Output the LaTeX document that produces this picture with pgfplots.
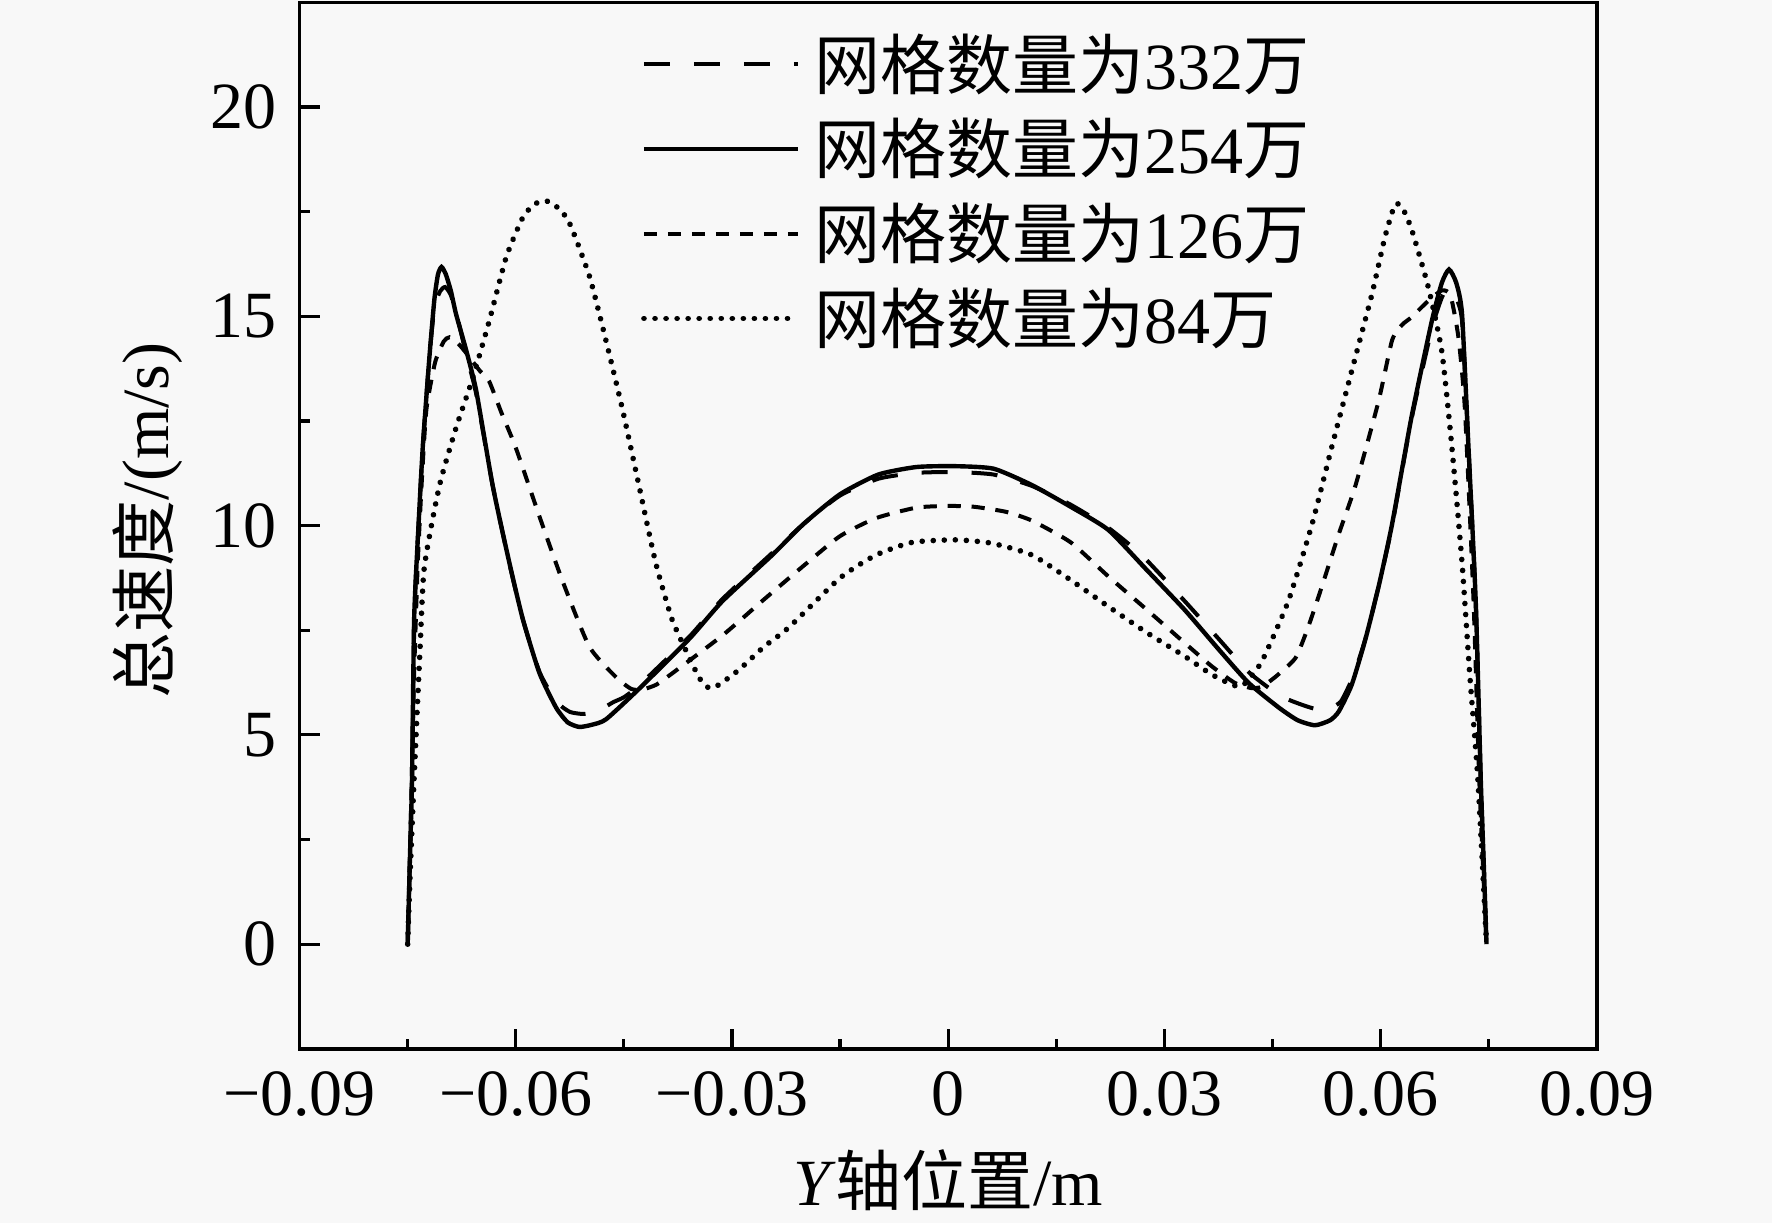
\documentclass[border=0pt]{standalone}
\usepackage{fontspec}
\setmainfont{Liberation Serif}
\newfontfamily\cjk{Noto Sans CJK SC}
\usepackage{pgfplots}
\pgfplotsset{compat=1.18}
\definecolor{bgc}{RGB}{248,248,248}
\begin{document}
\fontsize{16.5}{19.8}\selectfont
\begin{tikzpicture}
\fill[bgc] (-74.9pt,-43.6pt) rectangle (368.1pt,262.2pt);
\begin{axis}[
  at={(0pt,0pt)}, anchor=south west,
  scale only axis, width=324.3pt, height=261.6pt,
  xmin=-0.09, xmax=0.09, ymin=-2.5, ymax=22.5,
  scaled x ticks=false, scaled y ticks=false,
  xtick={-0.09,-0.06,-0.03,0,0.03,0.06,0.09},
  xticklabels={−0.09,−0.06,−0.03,0,0.03,0.06,0.09},
  ytick={0,5,10,15,20},
  yticklabels={0,5,10,15,20},
  minor xtick={-0.075,-0.045,-0.015,0.015,0.045,0.075},
  minor ytick={2.5,7.5,12.5,17.5},
  tick align=inside, xtick pos=bottom, ytick pos=left,
  major tick length=5pt, minor tick length=2.5pt,
  every major tick/.append style={black, line width=0.8pt},
  every minor tick/.append style={black, line width=0.8pt},
  axis line style={line width=0.9pt},
  tick label style={font=\fontsize{16.5}{19.8}\selectfont},
  label style={font=\fontsize{16.5}{19.8}\selectfont},
  xlabel={\textit{Y}{\cjk 轴位置}/m},
  ylabel={{\cjk 总速度}/(m/s)},
  xlabel style={at={(axis description cs:0.5,-0.126)}, anchor=center},
  ylabel style={at={(axis description cs:-0.117,0.505)}, anchor=center},
  legend style={at={(axis description cs:0.2627,0.9715)}, anchor=north west,
    draw=none, fill=none, inner sep=0pt, row sep=5.7pt,
    nodes={inner sep=0pt, text height=14pt, text depth=1.5pt},
    font=\fontsize{16.5}{19.8}\selectfont,
    /tikz/every odd column/.append style={column sep=3.4pt}},
  legend cell align=left,
  legend image code/.code={\draw[#1, smooth=false] (0pt,0pt) -- (38.5pt,0pt);},
  every axis plot/.append style={smooth, tension=0.35},
]
% 332
\addplot[black, line width=1pt, dash pattern=on 6.5pt off 6pt] coordinates {
(-0.0750,0) (-0.0744,3.94) (-0.0741,7.8) (-0.0735,10.0) (-0.0729,11.9)
(-0.0720,14.0) (-0.0713,15.2) (-0.0705,15.6) (-0.0698,15.7) (-0.0690,15.5)
(-0.0680,14.9) (-0.0669,14.1) (-0.0655,13.15) (-0.0632,10.95) (-0.0609,9.1)
(-0.0590,7.75) (-0.0567,6.5) (-0.0544,5.8) (-0.0525,5.55) (-0.0505,5.5)
(-0.0485,5.58) (-0.0465,5.78) (-0.0450,5.9) (-0.0429,6.18) (-0.0359,7.35)
(-0.0313,8.25) (-0.0244,9.35) (-0.0200,10.05) (-0.0150,10.72) (-0.0097,11.12)
(-0.0044,11.26) (0.0010,11.28) (0.0063,11.22) (0.0116,10.95) (0.0170,10.5)
(0.0222,9.95) (0.0270,9.27) (0.0328,8.2) (0.0375,7.3) (0.0417,6.5)
(0.0459,5.95) (0.0486,5.75) (0.0510,5.62) (0.0530,5.65) (0.0545,5.8)
(0.0562,6.4) (0.0579,7.3) (0.0598,8.6) (0.0616,10.0) (0.0643,12.55)
(0.0671,14.7) (0.0685,15.45) (0.0693,15.65) (0.0703,15.5) (0.0713,14.9)
(0.0722,11.86) (0.0732,8.2) (0.0739,3.94) (0.0747,0)
};
\addlegendentry{{\cjk 网格数量为}332{\cjk 万}}
% 254
\addplot[black, line width=1.1pt] coordinates {
(-0.0750,0) (-0.0747,2.0) (-0.0744,3.94) (-0.0741,7.8) (-0.0735,10.0)
(-0.0729,11.9) (-0.0720,14.0) (-0.0713,15.4) (-0.0708,16.0) (-0.0703,16.18)
(-0.0697,16.0) (-0.0690,15.6) (-0.0683,15.06) (-0.0669,14.2) (-0.0655,13.23)
(-0.0632,10.95) (-0.0609,9.12) (-0.0590,7.75) (-0.0567,6.47) (-0.0544,5.65)
(-0.0528,5.30) (-0.0512,5.19) (-0.0495,5.24) (-0.0475,5.37) (-0.0429,6.10)
(-0.0359,7.30) (-0.0313,8.20) (-0.0244,9.30) (-0.0200,10.05) (-0.0150,10.75)
(-0.0097,11.22) (-0.0044,11.40) (0.0010,11.42) (0.0063,11.36) (0.0116,10.97)
(0.0170,10.45) (0.0222,9.90) (0.0275,8.95) (0.0328,7.99) (0.0375,7.05)
(0.0417,6.24) (0.0459,5.65) (0.0485,5.35) (0.0509,5.23) (0.0530,5.35)
(0.0542,5.56) (0.0560,6.2) (0.0579,7.29) (0.0598,8.6) (0.0616,10.04)
(0.0643,12.60) (0.0671,14.88) (0.0685,15.8) (0.0695,16.12) (0.0705,15.8)
(0.0713,15.06) (0.0722,11.86) (0.0732,8.2) (0.0739,3.94) (0.0743,2.0)
(0.0747,0)
};
\addlegendentry{{\cjk 网格数量为}254{\cjk 万}}
% 126
\addplot[black, line width=1pt, dash pattern=on 3.3pt off 2.7pt] coordinates {
(-0.0750,0) (-0.0745,3.5) (-0.0741,6.5) (-0.0736,9.12) (-0.0730,11.2)
(-0.0724,12.78) (-0.0712,13.9) (-0.0700,14.4) (-0.0692,14.5) (-0.0680,14.35)
(-0.0670,14.15) (-0.0650,13.7) (-0.0637,13.45) (-0.0620,12.7) (-0.0600,11.86)
(-0.0567,10.21) (-0.0535,8.67) (-0.0498,7.11) (-0.0461,6.38) (-0.0440,6.1)
(-0.0425,6.08) (-0.0405,6.2) (-0.0383,6.47) (-0.0313,7.38) (-0.0256,8.23)
(-0.0200,9.05) (-0.0150,9.75) (-0.0100,10.18) (-0.0044,10.43) (0.0000,10.47)
(0.0036,10.45) (0.0080,10.33) (0.0116,10.12) (0.0170,9.6) (0.0222,8.79)
(0.0275,8.0) (0.0328,7.20) (0.0365,6.65) (0.0397,6.25) (0.0420,6.12)
(0.0435,6.15) (0.0455,6.4) (0.0482,6.84) (0.0500,7.6) (0.0519,8.57)
(0.0542,9.8) (0.0565,10.95) (0.0597,12.96) (0.0616,14.43) (0.0630,14.8)
(0.0643,14.98) (0.0665,15.35) (0.0685,15.62) (0.0697,15.5) (0.0708,14.5)
(0.0717,12.78) (0.0729,8.2) (0.0737,3.9) (0.0747,0)
};
\addlegendentry{{\cjk 网格数量为}126{\cjk 万}}
% 84
\addplot[black, line width=1.4pt, line cap=round, dash pattern=on 0.01pt off 2.75pt] coordinates {
(-0.0750,0) (-0.0747,1.5) (-0.0741,4.0) (-0.0733,7.0) (-0.0727,9.0)
(-0.0706,10.95) (-0.0683,12.33) (-0.0660,13.51) (-0.0637,14.88) (-0.0613,16.43)
(-0.0590,17.37) (-0.0574,17.68) (-0.0558,17.76) (-0.0542,17.6) (-0.0526,17.25)
(-0.0498,15.97) (-0.0475,14.43) (-0.0452,12.78) (-0.0429,10.95) (-0.0406,9.12)
(-0.0383,7.75) (-0.0359,6.84) (-0.0345,6.35) (-0.0332,6.12) (-0.0318,6.2)
(-0.0290,6.56) (-0.0256,7.1) (-0.0221,7.57) (-0.0150,8.75) (-0.0100,9.3)
(-0.0050,9.6) (0.0010,9.66) (0.0060,9.58) (0.0116,9.3) (0.0170,8.7)
(0.0222,8.07) (0.0275,7.45) (0.0328,6.88) (0.0365,6.45) (0.0397,6.18)
(0.0410,6.2) (0.0435,6.75) (0.0472,8.20) (0.0505,10.04) (0.0532,11.86)
(0.0560,13.70) (0.0588,15.53) (0.0606,16.89) (0.0620,17.67) (0.0630,17.6)
(0.0643,17.08) (0.0666,15.71) (0.0685,14.16) (0.0699,11.86) (0.0713,9.12)
(0.0724,6.38) (0.0735,3.94) (0.0747,0)
};
\addlegendentry{{\cjk 网格数量为}84{\cjk 万}}
\end{axis}
\pgfresetboundingbox
\path (-74.9pt,-43.6pt) rectangle (368.1pt,262.2pt);
\end{tikzpicture}
\end{document}
